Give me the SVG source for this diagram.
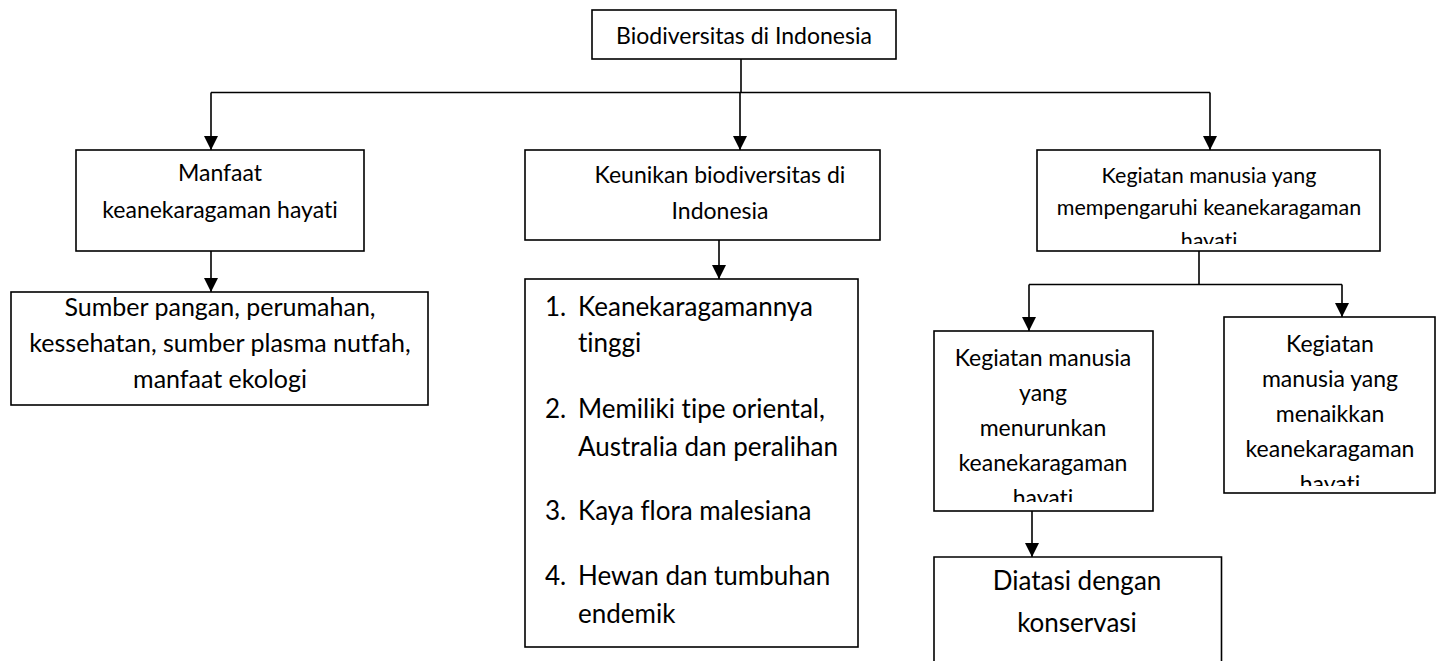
<svg xmlns="http://www.w3.org/2000/svg" width="1451" height="661" viewBox="0 0 1451 661">
<style>
.box{fill:#fff;stroke:#000;stroke-width:1.6}
.c{fill:none;stroke:#000;stroke-width:1.6}
text{font-family:Lato,"Open Sans","Liberation Sans",sans-serif;fill:#000;font-size:23px;font-variant-ligatures:none}
.m{text-anchor:middle}
.s{font-size:21.5px}
.b{font-size:25px}
.l{font-size:26px}
</style>
<defs>
<marker id="arr" markerUnits="userSpaceOnUse" markerWidth="14" markerHeight="14" viewBox="0 0 14 14" refX="14" refY="7" orient="auto">
<path d="M0,0 L14,7 L0,14 z" fill="#000"/>
</marker>
<clipPath id="clipR"><rect x="1037" y="150" width="343" height="94"/></clipPath>
<clipPath id="clipD"><rect x="934" y="331" width="219" height="171"/></clipPath>
<clipPath id="clipU"><rect x="1224" y="317" width="211" height="169"/></clipPath>
</defs>
<rect width="1451" height="661" fill="#fff"/>
<g id="connectors">
<path class="c" d="M741,59 V92.5"/>
<path class="c" d="M211,92.5 H1210"/>
<path class="c" d="M211,92.5 V150" marker-end="url(#arr)"/>
<path class="c" d="M740,92.5 V150" marker-end="url(#arr)"/>
<path class="c" d="M1210,92.5 V150" marker-end="url(#arr)"/>
<path class="c" d="M211,251 V292" marker-end="url(#arr)"/>
<path class="c" d="M719,240 V279" marker-end="url(#arr)"/>
<path class="c" d="M1199,251 V284.5"/>
<path class="c" d="M1029,284.5 H1342"/>
<path class="c" d="M1029,284.5 V331" marker-end="url(#arr)"/>
<path class="c" d="M1342,284.5 V317" marker-end="url(#arr)"/>
<path class="c" d="M1032,511 V557" marker-end="url(#arr)"/>
</g>
<g id="root">
<rect class="box" x="592" y="10" width="304" height="49"/>
<text class="m" x="744" y="44">Biodiversitas di Indonesia</text>
</g>
<g id="manfaat">
<rect class="box" x="76" y="150" width="288" height="101"/>
<text class="m" x="220" y="181">Manfaat</text>
<text class="m" x="220" y="218">keanekaragaman hayati</text>
</g>
<g id="sumber">
<rect class="box" x="11" y="292" width="417" height="113"/>
<text class="m b" x="220" y="316">Sumber pangan, perumahan,</text>
<text class="m b" x="220" y="352">kessehatan, sumber plasma nutfah,</text>
<text class="m b" x="220" y="388">manfaat ekologi</text>
</g>
<g id="keunikan">
<rect class="box" x="525" y="150" width="355" height="90"/>
<text class="m" x="720" y="183">Keunikan biodiversitas di</text>
<text class="m" x="720" y="219">Indonesia</text>
</g>
<g id="daftar">
<rect class="box" x="525" y="279" width="333" height="368"/>
<text class="l" x="545" y="316">1.</text><text class="l" x="578" y="316">Keanekaragamannya</text>
<text class="l" x="578" y="352">tinggi</text>
<text class="l" x="545" y="418">2.</text><text class="l" x="578" y="418">Memiliki tipe oriental,</text>
<text class="l" x="578" y="456">Australia dan peralihan</text>
<text class="l" x="545" y="520">3.</text><text class="l" x="578" y="520">Kaya flora malesiana</text>
<text class="l" x="545" y="585">4.</text><text class="l" x="578" y="585">Hewan dan tumbuhan</text>
<text class="l" x="578" y="623">endemik</text>
</g>
<g id="kegiatan">
<rect class="box" x="1037" y="150" width="343" height="101"/>
<g clip-path="url(#clipR)">
<text class="m s" x="1209" y="183">Kegiatan manusia yang</text>
<text class="m s" x="1209" y="215">mempengaruhi keanekaragaman</text>
<text class="m s" x="1209" y="248">hayati</text>
</g>
</g>
<g id="menurunkan">
<rect class="box" x="934" y="331" width="219" height="180"/>
<g clip-path="url(#clipD)">
<text class="m" x="1043" y="366">Kegiatan manusia</text>
<text class="m" x="1043" y="401">yang</text>
<text class="m" x="1043" y="436">menurunkan</text>
<text class="m" x="1043" y="471">keanekaragaman</text>
<text class="m" x="1043" y="506">hayati</text>
</g>
</g>
<g id="menaikkan">
<rect class="box" x="1224" y="317" width="211" height="176"/>
<g clip-path="url(#clipU)">
<text class="m" x="1330" y="352">Kegiatan</text>
<text class="m" x="1330" y="387">manusia yang</text>
<text class="m" x="1330" y="422">menaikkan</text>
<text class="m" x="1330" y="457">keanekaragaman</text>
<text class="m" x="1330" y="492">hayati</text>
</g>
</g>
<g id="konservasi">
<path class="c" d="M934,661 V557 H1221.5 V661"/>
<text class="m l" x="1077" y="590">Diatasi dengan</text>
<text class="m l" x="1077" y="632">konservasi</text>
</g>
</svg>
